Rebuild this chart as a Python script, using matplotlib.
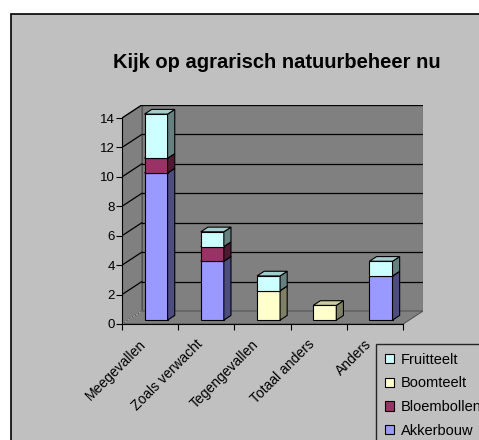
import matplotlib
matplotlib.use("Agg")
import matplotlib.pyplot as plt
from matplotlib.patches import Polygon, Rectangle, Patch
from matplotlib.transforms import offset_copy
import numpy as np

plt.rcParams['font.family'] = ['Liberation Sans', 'DejaVu Sans']

categories = ["Meegevallen", "Zoals verwacht", "Tegengevallen", "Totaal anders", "Anders"]
series_names = ["Akkerbouw", "Bloembollen", "Boomteelt", "Fruitteelt"]
akkerbouw = [10, 4, 0, 0, 3]
bloembollen = [1, 1, 0, 0, 0]
boomteelt = [0, 0, 2, 1, 0]
fruitteelt = [3, 1, 1, 0, 1]
series_values = [akkerbouw, bloembollen, boomteelt, fruitteelt]
front_colors = ["#9999FF", "#993366", "#FFFFCC", "#CCFFFF"]
side_colors = ["#4D4D80", "#4D1A33", "#808066", "#668080"]
top_colors = ["#7A7ACC", "#7A2952", "#CCCCA3", "#A3CCCC"]
yticks = [0, 2, 4, 6, 8, 10, 12, 14]
title = "Kijk op agrarisch natuurbeheer nu"

W, H = 479, 440
fig = plt.figure(figsize=(W / 100, H / 100), dpi=100)
fig.patch.set_facecolor("white")

# chart area
fig.patches.append(Rectangle((11 / W, -0.1), 1.2, 1 - 14 / H + 0.1, transform=fig.transFigure,
                             facecolor="#C0C0C0", edgecolor="black", linewidth=1.2, zorder=-10))

ymax = 14
ncat = len(categories)
dx = 0.353   # depth offset in category units
dy = 0.884   # depth offset in value units

ax = fig.add_axes([122 / W, 1 - 324 / H, (423 - 122) / W, (324 - 105) / H])
ax.set_xlim(0, ncat + dx)
ax.set_ylim(0, ymax + dy)
ax.patch.set_visible(False)

wall = "#808080"
wedge = "#555555"
# back wall
ax.add_patch(Polygon([(dx, dy), (ncat + dx, dy), (ncat + dx, ymax + dy), (dx, ymax + dy)],
                     closed=True, facecolor=wall, edgecolor=wedge, linewidth=0.8, zorder=1))
# side wall
ax.add_patch(Polygon([(0, 0), (dx, dy), (dx, ymax + dy), (0, ymax)],
                     closed=True, facecolor=wall, edgecolor=wedge, linewidth=0.8, zorder=1))
# floor
ax.add_patch(Polygon([(0, 0), (ncat, 0), (ncat + dx, dy), (dx, dy)],
                     closed=True, facecolor=wall, edgecolor=wedge, linewidth=0.8, zorder=1))

# gridlines
for t in yticks[1:]:
    ax.plot([dx, ncat + dx], [t + dy, t + dy], color="black", linewidth=0.9, zorder=2)
    ax.plot([0, dx], [t, t + dy], color="black", linewidth=0.9, zorder=2)
ax.plot([0, dx], [0, dy], color="#AAAAAA", linewidth=0.8, linestyle=(0, (2, 1)), zorder=2)

# bars
w = 0.41
f0 = 0.30
d = 0.36
x = np.arange(ncat) + 0.5 + f0 * dx
bottoms = np.zeros(ncat)
for s, vals in enumerate(series_values):
    vals = np.array(vals, dtype=float)
    mask = vals > 0
    ax.bar(x[mask], vals[mask], width=w, bottom=bottoms[mask] + f0 * dy,
           color=front_colors[s], edgecolor="black", linewidth=0.8, zorder=5)
    for i in np.where(mask)[0]:
        x0 = x[i] - w / 2
        y0 = bottoms[i] + f0 * dy
        h = vals[i]
        ax.add_patch(Polygon([(x0 + w, y0), (x0 + w + d * dx, y0 + d * dy),
                              (x0 + w + d * dx, y0 + h + d * dy), (x0 + w, y0 + h)],
                             closed=True, facecolor=side_colors[s], edgecolor="black",
                             linewidth=0.8, zorder=5))
        ax.add_patch(Polygon([(x0, y0 + h), (x0 + w, y0 + h),
                              (x0 + w + d * dx, y0 + h + d * dy), (x0 + d * dx, y0 + h + d * dy)],
                             closed=True, facecolor=top_colors[s], edgecolor="black",
                             linewidth=0.8, zorder=5))
    bottoms = bottoms + vals

# axes
for sp in ["top", "right"]:
    ax.spines[sp].set_visible(False)
ax.spines["left"].set_bounds(0, ymax)
ax.spines["bottom"].set_bounds(0, ncat)
ax.spines["left"].set_zorder(6)
ax.spines["bottom"].set_zorder(6)
ax.set_yticks(yticks)
ax.set_yticklabels([str(t) for t in yticks], fontsize=9.5)
ax.tick_params(axis="y", direction="out", length=4, width=0.8, pad=1)
ax.set_xticks(np.arange(ncat + 1))
ax.set_xticklabels([])
ax.tick_params(axis="x", direction="out", length=4, width=0.8)

lab_tr = offset_copy(ax.transData, fig=fig, x=-11, y=-13, units="dots")
for i, cat in enumerate(categories):
    ax.text(i + 0.5, 0, cat, transform=lab_tr, rotation=45, ha="right", va="top",
            rotation_mode="anchor", fontsize=10, clip_on=False)

fig.text(277 / W, 1 - 63 / H, title, ha="center", va="center", fontsize=14.5, fontweight="bold")

handles = [Patch(facecolor=front_colors[s], edgecolor="black", linewidth=0.8)
           for s in range(len(series_names))][::-1]
leg = fig.legend(handles, series_names[::-1], loc="upper left",
                 bbox_to_anchor=(376 / W, 1 - 344 / H), fontsize=10.5, frameon=True,
                 fancybox=False, handlelength=0.62, handleheight=0.62, handletextpad=0.5,
                 labelspacing=0.66, borderpad=0.6, borderaxespad=0)
leg.get_frame().set_facecolor("#C0C0C0")
leg.get_frame().set_edgecolor("black")
leg.get_frame().set_linewidth(1.0)

fig.savefig("out.png", dpi=100)
